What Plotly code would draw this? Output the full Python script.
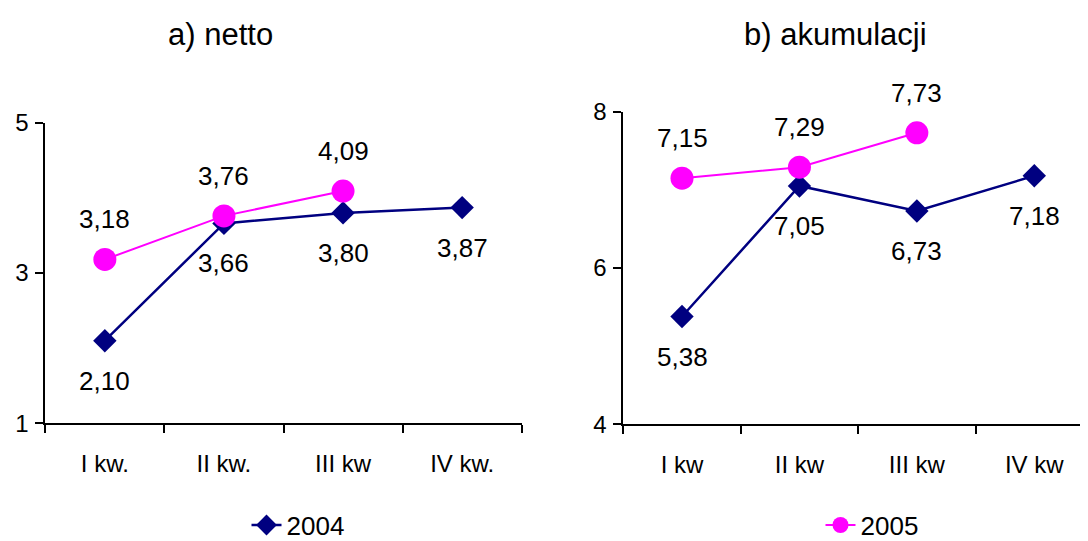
import plotly.graph_objects as go
from plotly.subplots import make_subplots

# data
kw_netto = ["I kw.", "II kw.", "III kw", "IV kw."]
kw_akum = ["I kw", "II kw", "III kw", "IV kw"]

netto_2004 = [2.10, 3.66, 3.80, 3.87]
netto_2005 = [3.18, 3.76, 4.09]
akum_2004 = [5.38, 7.05, 6.73, 7.18]
akum_2005 = [7.15, 7.29, 7.73]

titles = ["a) netto", "b) akumulacji"]

NAVY = "#000080"
MAGENTA = "#FF00FF"
FONT = "Liberation Sans, Arial, sans-serif"
W, H = 1088, 541
OFF = 8  # page body margin

def px_x(v):
    return (v - OFF) / W

def px_y(v):
    return 1 - (v - OFF) / H

fig = make_subplots(rows=1, cols=2)

def fmt(v):
    return f"{v:.2f}".replace(".", ",")

for col, cats, s04, s05 in [(1, kw_netto, netto_2004, netto_2005),
                            (2, kw_akum, akum_2004, akum_2005)]:
    fig.add_trace(go.Scatter(
        x=cats, y=s04, name="2004", mode="lines+markers",
        line=dict(color=NAVY, width=2.5),
        marker=dict(symbol="diamond", size=18, color=NAVY),
        showlegend=(col == 1), legend="legend",
    ), row=1, col=col)
    fig.add_trace(go.Scatter(
        x=cats[:len(s05)], y=s05, name="2005", mode="lines+markers",
        line=dict(color=MAGENTA, width=2),
        marker=dict(symbol="circle", size=23, color=MAGENTA),
        showlegend=(col == 2), legend="legend2",
    ), row=1, col=col)
    xref = "x" if col == 1 else "x2"
    yref = "y" if col == 1 else "y2"
    for c, v in zip(cats, s04):
        fig.add_annotation(x=c, y=v, xref=xref, yref=yref, text=fmt(v),
                           showarrow=False, yshift=-40,
                           font=dict(size=26, color="black", family=FONT))
    for c, v in zip(cats, s05):
        fig.add_annotation(x=c, y=v, xref=xref, yref=yref, text=fmt(v),
                           showarrow=False, yshift=40,
                           font=dict(size=26, color="black", family=FONT))

for t, cx in zip(titles, [220, 835]):
    fig.add_annotation(x=px_x(cx), y=px_y(35), xref="paper", yref="paper",
                       xanchor="center", yanchor="middle",
                       text=t, showarrow=False,
                       font=dict(size=31, color="black", family=FONT))

axis_common = dict(showline=True, linecolor="black", linewidth=2,
                   ticks="outside", ticklen=8, tickwidth=2, tickcolor="black",
                   showgrid=False, zeroline=False, automargin=False,
                   tickfont=dict(size=24, color="black", family=FONT))

fig.update_xaxes(**axis_common, tickson="boundaries", ticklabelstandoff=18)
fig.update_yaxes(**axis_common, ticklabelstandoff=2)

fig.update_layout(
    width=W, height=H,
    margin=dict(l=0, r=0, t=0, b=0),
    paper_bgcolor="white", plot_bgcolor="white",
    xaxis=dict(domain=[px_x(45.3), px_x(521.7)], range=[-0.5, 3.5]),
    xaxis2=dict(domain=[px_x(623.3), px_x(1093)], range=[-0.5, 3.5]),
    yaxis=dict(domain=[px_y(425.7), px_y(123.3)], range=[1, 5],
               tickvals=[1, 3, 5]),
    yaxis2=dict(domain=[px_y(426.7), px_y(112.3)], range=[4, 8],
                tickvals=[4, 6, 8]),
    legend=dict(orientation="h", x=px_x(298), y=px_y(528),
                xanchor="center", yanchor="middle",
                font=dict(size=26, color="black", family=FONT)),
    legend2=dict(orientation="h", x=px_x(872), y=px_y(528),
                 xanchor="center", yanchor="middle",
                 font=dict(size=26, color="black", family=FONT)),
    font=dict(family=FONT, color="black"),
)

fig.write_html("out.html")
